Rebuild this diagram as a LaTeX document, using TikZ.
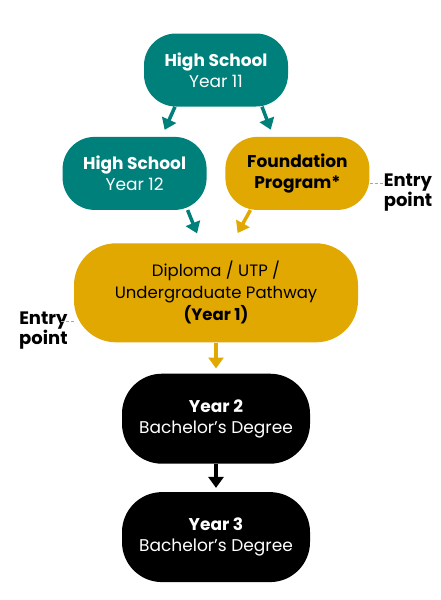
\documentclass[tikz,border=0pt]{standalone}
\usepackage{fontspec}
\setmainfont{Poppins}
\usetikzlibrary{positioning,arrows.meta}

\definecolor{schoolteal}{HTML}{00807A}
\definecolor{pathgold}{HTML}{E0A800}

\tikzset{
    stage/.style={rounded corners=32pt, minimum width=144pt, minimum height=73pt,
        align=center, inner sep=2pt, font=\fontsize{17}{21}\selectfont},
    highschool/.style={stage, fill=schoolteal, text=white},
    foundation/.style={stage, fill=pathgold, text=black},
    degree/.style={stage, rounded corners=40pt, fill=black, text=white,
        minimum width=188pt, minimum height=90pt},
    flow/.style={line width=3.5pt, -{Triangle[width=15pt,length=11pt]}},
    entrylabel/.style={font=\fontsize{18}{18}\selectfont\bfseries, inner sep=0pt},
    entrydash/.style={pathgold, line width=1.2pt, dash pattern=on 3pt off 2pt}
}

\begin{document}
\begin{tikzpicture}[x=1pt, y=1pt]
    \useasboundingbox[fill=white] (0,0) rectangle (440,-600);

    % the stages
    \node[highschool] (y11) at (216,-70) {\textbf{High School}\\Year 11};
    \node[highschool, below left=30pt and -63pt of y11] (y12) {\textbf{High School}\\Year 12};
    \node[foundation, below right=30pt and -63pt of y11] (fp) {\textbf{Foundation}\\\textbf{Program*}};
    \node[stage, fill=pathgold, minimum width=284pt, minimum height=99pt, rounded corners=42pt,
        font=\fontsize{16.5}{22}\selectfont,
        below=33pt of y12.south -| y11] (dip) {Diploma / UTP /\\Undergraduate Pathway\\\textbf{(Year 1)}};
    \node[degree, below=31pt of dip] (y2) {\textbf{Year 2}\\Bachelor’s Degree};
    \node[degree, below=28pt of y2] (y3) {\textbf{Year 3}\\Bachelor’s Degree};

    % arrows between the stages
    \draw[flow, schoolteal, shorten >=7.5pt] ([xshift=-41pt]y11.south) -- ([xshift=27pt]y12.north);
    \draw[flow, schoolteal, shorten >=7.5pt] ([xshift=46pt]y11.south) -- ([xshift=-24pt]fp.north);
    \draw[flow, schoolteal, shorten >=10.5pt] ([xshift=53pt]y12.south) -- ([xshift=-15pt]dip.north);
    \draw[flow, pathgold, shorten >=11.5pt] ([xshift=-47pt]fp.south) -- ([xshift=16pt]dip.north);
    \draw[flow, pathgold, shorten >=5pt] (dip) -- (y2);
    \draw[flow, black, shorten >=4pt] (y2) -- (y3);

    % entry points
    \coordinate (fpdash) at ([yshift=-10pt]fp.east);
    \node[entrylabel, align=left, anchor=west] (entfp) at ([xshift=14pt, yshift=-9pt]fpdash) {Entry\\point};
    \draw[entrydash] (fpdash) -- (fpdash -| entfp.west);

    \coordinate (dipdash) at ([yshift=-29pt]dip.west);
    \node[entrylabel, align=center, anchor=east] (entdip) at ([xshift=-6pt, yshift=-9pt]dipdash) {Entry\\point};
    \draw[entrydash] (dipdash) -- ++(-13pt,0);
\end{tikzpicture}
\end{document}
